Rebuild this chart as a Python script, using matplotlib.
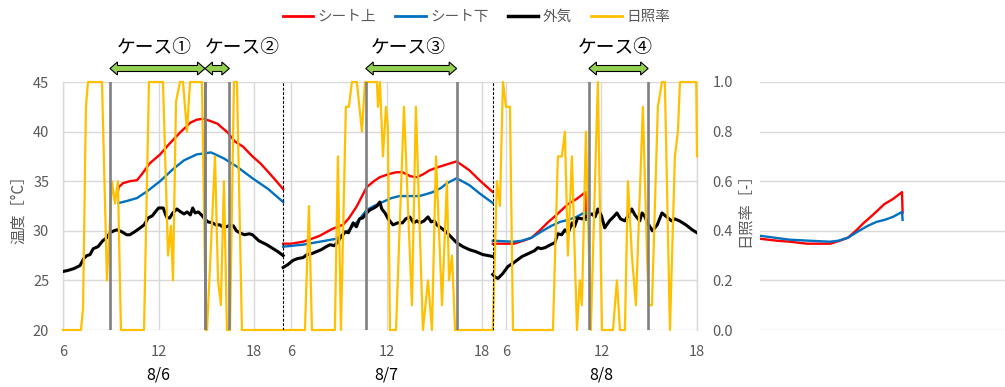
import matplotlib
matplotlib.use("Agg")
import matplotlib.pyplot as plt
import numpy as np
from matplotlib.patches import Polygon
from matplotlib.lines import Line2D

plt.rcParams['font.family'] = ['Noto Sans CJK JP', 'DejaVu Sans']

# ---------------- data ----------------
day_labels = ["8/6", "8/7", "8/8"]
day_start = [6.0, 5.5, 5.17]
day_end = [19.83, 18.67, 18.0]
hour_ticks = [6, 12, 18]
series_names = ["シート上", "シート下", "外気", "日照率"]

# Day 1 (8/6)
d1_top_t = [9.45, 9.5, 9.77, 10.2, 10.65, 11.0, 11.45, 12.1, 12.7, 13.35, 14.0, 14.4, 14.8, 15.2,
            15.7, 16.35, 16.8, 17.3, 17.9, 18.4, 18.8, 19.3, 19.83]
d1_top_v = [34.0, 34.4, 34.8, 35.0, 35.1, 35.8, 36.8, 37.7, 38.8, 39.9, 40.9, 41.2, 41.3, 41.1,
            40.8, 39.9, 39.0, 38.5, 37.5, 36.8, 36.1, 35.2, 34.2]
d1_bot_t = [9.5, 10.0, 10.65, 11.3, 12.1, 12.9, 13.6, 14.4, 15.3, 16.1, 16.9, 17.9, 18.9, 19.83]
d1_bot_v = [32.8, 33.0, 33.3, 34.0, 35.0, 36.2, 37.1, 37.7, 37.9, 37.3, 36.5, 35.3, 34.2, 32.9]
d1_air_t = [6.0, 6.3, 6.7, 7.07, 7.3, 7.5, 7.7, 7.9, 8.2, 8.5, 8.75, 8.95, 9.2, 9.4, 9.7, 10.0, 10.2,
            10.5, 10.85, 11.1, 11.35, 11.6, 11.8, 12.0, 12.3, 12.45, 12.55, 12.7, 12.9, 13.15, 13.4,
            13.6, 13.8, 14.0, 14.15, 14.3, 14.5, 14.7, 14.9, 15.1, 15.4, 15.6, 15.85, 16.1, 16.4,
            16.7, 16.9, 17.1, 17.4, 17.7, 17.9, 18.3, 18.8, 19.2, 19.5, 19.83]
d1_air_v = [25.9, 26.0, 26.2, 26.5, 27.2, 27.5, 27.6, 28.2, 28.4, 29.0, 29.3, 29.8, 30.0, 30.1, 29.9,
            29.6, 29.6, 29.9, 30.3, 30.6, 31.3, 31.5, 31.9, 32.3, 32.3, 31.6, 31.3, 31.3, 31.8, 32.2,
            31.9, 31.7, 31.9, 31.6, 32.3, 31.8, 31.9, 31.6, 31.2, 30.9, 30.8, 30.6, 30.6, 30.3, 30.5,
            30.5, 30.0, 29.8, 29.6, 29.7, 29.6, 29.0, 28.6, 28.2, 27.9, 27.5]
d1_sun_t = [6.0, 7.13, 7.26, 7.44, 7.57, 8.45, 8.76, 9.08, 9.27, 9.45, 9.64, 11.09, 11.4, 12.28,
            12.6, 12.78, 12.91, 13.1, 13.35, 13.54, 13.79, 13.98, 14.73, 14.98, 15.05, 15.55, 15.74,
            15.92, 16.11, 16.3, 16.49, 16.74, 16.93, 17.24, 19.83]
d1_sun_v = [0.0, 0.0, 0.09, 0.9, 1.0, 1.0, 0.2, 0.6, 0.51, 0.6, 0.0, 0.0, 1.0, 1.0,
            0.3, 0.42, 0.2, 0.92, 1.0, 1.0, 0.8, 1.0, 1.0, 0.0, 0.0, 0.7, 0.2,
            0.1, 0.6, 0.0, 0.0, 1.0, 1.0, 0.0, 0.0]

# Day 2 (8/7)
d2_top_t = [5.5, 6.0, 6.75, 7.3, 7.8, 8.6, 9.25, 9.6, 10.1, 10.75, 11.2, 11.57, 12.1, 12.6, 13.0,
            13.5, 13.9, 14.3, 14.7, 15.2, 15.8, 16.4, 17.2, 17.9, 18.67]
d2_top_v = [28.7, 28.7, 28.9, 29.2, 29.5, 30.2, 30.6, 31.2, 32.4, 34.4, 35.0, 35.4, 35.7, 35.9, 35.9,
            35.5, 35.4, 35.7, 36.1, 36.4, 36.7, 37.0, 36.1, 35.0, 33.9]
d2_bot_t = [5.5, 6.75, 7.8, 8.85, 9.65, 10.2, 10.75, 11.2, 11.75, 12.3, 12.8, 14.05, 14.5, 14.9,
            15.4, 15.8, 16.4, 17.2, 17.9, 18.67]
d2_bot_v = [28.4, 28.6, 28.9, 29.2, 30.1, 31.0, 32.1, 32.5, 32.9, 33.3, 33.5, 33.5, 33.7, 33.9,
            34.3, 34.8, 35.3, 34.6, 33.7, 32.8]
d2_air_t = [5.5, 5.8, 6.1, 6.4, 6.75, 7.0, 7.3, 7.6, 7.9, 8.2, 8.45, 8.7, 8.9, 9.1, 9.4, 9.6, 9.9,
            10.1, 10.3, 10.5, 10.75, 10.95, 11.2, 11.4, 11.57, 11.7, 11.9, 12.1, 12.4, 12.7, 13.0,
            13.2, 13.45, 13.7, 13.9, 14.1, 14.35, 14.6, 14.8, 15.0, 15.15, 15.5, 15.8, 16.1, 16.4,
            16.8, 17.2, 17.6, 18.05, 18.4, 18.67]
d2_air_v = [26.3, 26.6, 27.0, 27.2, 27.3, 27.6, 27.7, 27.9, 28.1, 28.4, 28.6, 28.5, 28.8, 29.3, 29.9,
            29.8, 30.8, 30.4, 31.2, 31.3, 31.8, 32.1, 32.3, 32.5, 32.9, 32.2, 31.8, 31.2, 30.6, 30.8,
            30.8, 31.2, 31.4, 30.8, 31.0, 30.8, 31.0, 31.4, 30.9, 31.0, 30.6, 30.2, 29.8, 29.3, 28.8,
            28.4, 28.1, 27.9, 27.6, 27.5, 27.4]
d2_sun_t = [5.5, 6.87, 7.12, 7.31, 8.75, 8.94, 9.13, 9.44, 9.63, 9.82, 10.13, 10.45, 10.64, 11.39,
            11.46, 11.58, 11.77, 11.96, 12.08, 12.21, 12.59, 13.09, 13.59, 13.84, 14.28, 14.6, 14.85,
            15.1, 15.48, 15.79, 15.92, 16.11, 16.3, 18.67]
d2_sun_v = [0.0, 0.0, 0.5, 0.0, 0.0, 0.7, 0.0, 0.9, 0.9, 1.0, 1.0, 0.8, 1.0, 1.0,
            0.9, 1.0, 0.7, 0.9, 0.82, 0.0, 0.0, 0.9, 0.1, 0.9, 0.0, 0.2, 0.0,
            0.7, 0.1, 0.6, 0.2, 0.3, 0.0, 0.0]

# Day 3 (8/8) - sheet data recorded from early morning
d3_top_t = [2.08, 3.15, 3.96, 5.03, 5.17, 6.0, 6.5, 7.1, 7.6, 8.1, 8.6, 9.1, 9.9, 10.43, 11.0, 11.04]
d3_top_v = [29.2, 29.0, 28.9, 28.7, 28.7, 28.7, 28.7, 29.0, 29.3, 30.0, 30.8, 31.5, 32.7, 33.2, 33.9, 31.8]
d3_bot_t = [2.08, 3.96, 5.17, 6.48, 7.0, 7.6, 8.2, 8.85, 9.4, 9.9, 10.43, 11.0, 11.04]
d3_bot_v = [29.5, 29.1, 29.0, 28.9, 29.0, 29.3, 29.9, 30.5, 30.9, 31.1, 31.4, 31.9, 31.1]
d3_air_t = [5.17, 5.35, 5.5, 5.8, 6.12, 6.5, 7.0, 7.4, 7.8, 8.0, 8.2, 8.45, 8.8, 9.07, 9.25, 9.5, 9.7,
            9.9, 10.15, 10.3, 10.5, 10.8, 11.1, 11.4, 11.6, 11.77, 12.0, 12.2, 12.5, 12.75, 12.97,
            13.2, 13.47, 13.7, 13.9, 14.1, 14.4, 14.55, 14.7, 14.9, 15.2, 15.5, 15.8, 16.1, 16.4,
            16.6, 16.9, 17.3, 17.7, 18.0]
d3_air_v = [25.6, 25.3, 25.2, 25.7, 26.4, 26.8, 27.4, 27.7, 28.0, 28.3, 28.2, 28.3, 28.6, 28.8, 29.7,
            29.6, 30.1, 29.8, 30.8, 30.4, 31.3, 31.2, 31.5, 31.7, 31.4, 32.2, 31.5, 30.3, 31.0, 31.4,
            31.8, 31.2, 31.0, 31.6, 32.2, 31.6, 31.0, 31.8, 31.5, 30.8, 30.0, 30.6, 31.8, 31.4, 31.0,
            31.2, 31.0, 30.6, 30.1, 29.8]
d3_sun_t = [5.17, 5.43, 5.62, 5.81, 6.0, 6.25, 6.44, 8.95, 9.26, 9.51, 9.7, 9.89, 10.14, 10.46,
            10.64, 10.77, 11.02, 11.33, 11.77, 12.03, 12.72, 12.97, 13.16, 13.47, 13.66, 13.91,
            14.16, 14.6, 14.86, 14.98, 15.17, 15.54, 15.8, 15.98, 16.3, 16.61, 16.8, 16.93, 17.95, 18.0]
d3_sun_v = [0.0, 0.6, 0.5, 1.0, 0.9, 0.9, 0.0, 0.0, 0.7, 0.7, 0.8, 0.3, 0.7, 0.0,
            0.2, 0.1, 0.8, 0.0, 1.0, 0.0, 0.0, 0.2, 0.0, 0.0, 0.6, 0.3,
            0.1, 0.9, 0.3, 0.1, 0.1, 0.9, 1.0, 1.0, 0.0, 0.7, 0.8, 1.0, 1.0, 0.7]

case_names = ["ケース①", "ケース②", "ケース③", "ケース④"]
case_day = [0, 0, 1, 2]
case_from = [8.95, 14.92, 10.69, 11.21]
case_to = [14.92, 16.45, 16.4, 14.93]

# ---------------- helpers ----------------
day_len = [e - s for s, e in zip(day_start, day_end)]
offsets = np.concatenate([[0.0], np.cumsum(day_len)[:-1]])
total = float(np.sum(day_len))


def pos(day, t):
    return offsets[day] + (np.asarray(t, dtype=float) - day_start[day])


def clipped(day, t, v):
    t = np.asarray(t, dtype=float)
    v = np.asarray(v, dtype=float)
    m = (t >= day_start[day] - 1e-9) & (t <= day_end[day] + 1e-9)
    return pos(day, t[m]), v[m]


C_TOP, C_BOT, C_AIR, C_SUN = "#FF0000", "#0070C0", "#000000", "#FFC000"
GRID = "#D9D9D9"
TXT = "#595959"

W, H = 1005, 387
fig = plt.figure(figsize=(W / 100, H / 100), dpi=100)
L, R, T, B = 63, 697, 82, 330
ax = fig.add_axes([L / W, 1 - B / H, (R - L) / W, (B - T) / H])
ax.set_xlim(0, total)
ax.set_ylim(20, 45)
ax.set_yticks([20, 25, 30, 35, 40, 45])

tick_pos, tick_lab = [], []
for d in range(3):
    for h in hour_ticks:
        tick_pos.append(pos(d, h))
        tick_lab.append(str(h))
ax.set_xticks(tick_pos)
ax.set_xticklabels(tick_lab)
ax.grid(True, color=GRID, lw=1.0)
ax.set_axisbelow(True)
for s in ["top", "bottom"]:
    ax.spines[s].set_visible(False)
for s in ["left", "right"]:
    ax.spines[s].set_color(GRID)
    ax.spines[s].set_linewidth(1.0)
ax.tick_params(axis="both", length=0, colors=TXT, labelsize=10.5)
ax.tick_params(axis="x", pad=11)
ax.tick_params(axis="y", pad=10)

tops = [(d1_top_t, d1_top_v), (d2_top_t, d2_top_v), (d3_top_t, d3_top_v)]
bots = [(d1_bot_t, d1_bot_v), (d2_bot_t, d2_bot_v), (d3_bot_t, d3_bot_v)]
airs = [(d1_air_t, d1_air_v), (d2_air_t, d2_air_v), (d3_air_t, d3_air_v)]
suns = [(d1_sun_t, d1_sun_v), (d2_sun_t, d2_sun_v), (d3_sun_t, d3_sun_v)]

for d in range(3):
    x, y = clipped(d, *tops[d])
    ax.plot(x, y, color=C_TOP, lw=1.7, zorder=3)
    x, y = clipped(d, *bots[d])
    ax.plot(x, y, color=C_BOT, lw=1.7, zorder=3)
    x, y = clipped(d, *airs[d])
    ax.plot(x, y, color=C_AIR, lw=2.2, zorder=4)

ax.set_ylabel("温度［°C］", color=TXT, fontsize=11, labelpad=4)

ax2 = ax.twinx()
ax2.set_ylim(0, 1.0)
ax2.set_yticks(np.linspace(0, 1, 6))
ax2.set_yticklabels([f"{v:.1f}" for v in np.linspace(0, 1, 6)])
for s in ax2.spines.values():
    s.set_visible(False)
ax2.tick_params(axis="y", length=0, colors=TXT, labelsize=10.5, pad=11)
ax2.set_ylabel("日照率［-］", color=TXT, fontsize=11, labelpad=2)
for d in range(3):
    x, y = clipped(d, *suns[d])
    ax2.plot(x, y, color=C_SUN, lw=1.6, zorder=3, clip_on=False)

# case boundary lines
for d, a, b in zip(case_day, case_from, case_to):
    for t in (a, b):
        ax2.axvline(pos(d, t), color="#808080", lw=1.9, zorder=5)
# day separators
for d in range(1, 3):
    ax2.axvline(offsets[d], color="black", lw=0.8, ls=(0, (2.5, 1.5)), zorder=5)

# date labels
for d, lab in enumerate(day_labels):
    xf = fig.transFigure.inverted().transform(ax.transData.transform((pos(d, 12), 20)))[0]
    fig.text(xf, 1 - 375 / H, lab, ha="center", va="center", fontsize=11.5, color="black")

# case arrows and labels
def px2fig(x, y):
    return (x / W, 1 - y / H)

yc, hl, hw, sw = 68.5, 7.5, 6.5, 3.0
for name, d, a, b in zip(case_names, case_day, case_from, case_to):
    x0 = ax.transData.transform((pos(d, a), 20))[0]
    x1 = ax.transData.transform((pos(d, b), 20))[0]
    pts = [(x0, yc), (x0 + hl, yc - hw), (x0 + hl, yc - sw), (x1 - hl, yc - sw), (x1 - hl, yc - hw),
           (x1, yc), (x1 - hl, yc + hw), (x1 - hl, yc + sw), (x0 + hl, yc + sw), (x0 + hl, yc + hw)]
    poly = Polygon([px2fig(px, py) for px, py in pts], closed=True, transform=fig.transFigure,
                   facecolor="#92D050", edgecolor="black", lw=0.8)
    fig.add_artist(poly)
    if (x1 - x0) < 40:
        fig.text(x0 / W, 1 - 48 / H, name, ha="left", va="center", fontsize=13.5, color="black")
    else:
        fig.text((x0 + x1) / 2 / W - 0.003, 1 - 48 / H, name, ha="center", va="center",
                 fontsize=13.5, color="black")

# overflow region on the right (day 3 sheet data drawn beyond the axis)
ax3 = fig.add_axes([760 / W, 1 - B / H, (W - 760) / W, (B - T) / H])
ax3.set_ylim(20, 45)
px_per_h = (R - L) / total
ax3.set_xlim(d3_top_t[0], d3_top_t[0] + (W - 760) / px_per_h)
ax3.set_yticks([20, 25, 30, 35, 40, 45])
ax3.set_xticks([])
ax3.grid(True, axis="y", color=GRID, lw=1.0)
ax3.set_axisbelow(True)
ax3.tick_params(axis="y", length=0, labelleft=False)
for s in ax3.spines.values():
    s.set_visible(False)
ax3.patch.set_alpha(0)
ax3.plot(d3_top_t, d3_top_v, color=C_TOP, lw=1.7)
ax3.plot(d3_bot_t, d3_bot_v, color=C_BOT, lw=1.7)

# legend
handles = [Line2D([], [], color=C_TOP, lw=2), Line2D([], [], color=C_BOT, lw=2),
           Line2D([], [], color=C_AIR, lw=2.5), Line2D([], [], color=C_SUN, lw=2)]
fig.legend(handles, series_names, loc="center", bbox_to_anchor=(0.474, 1 - 17 / H), ncol=4,
           frameon=False, fontsize=10.5, handlelength=2.1, handletextpad=0.3, columnspacing=1.3,
           labelcolor=TXT)

fig.savefig("out.png", dpi=100)
